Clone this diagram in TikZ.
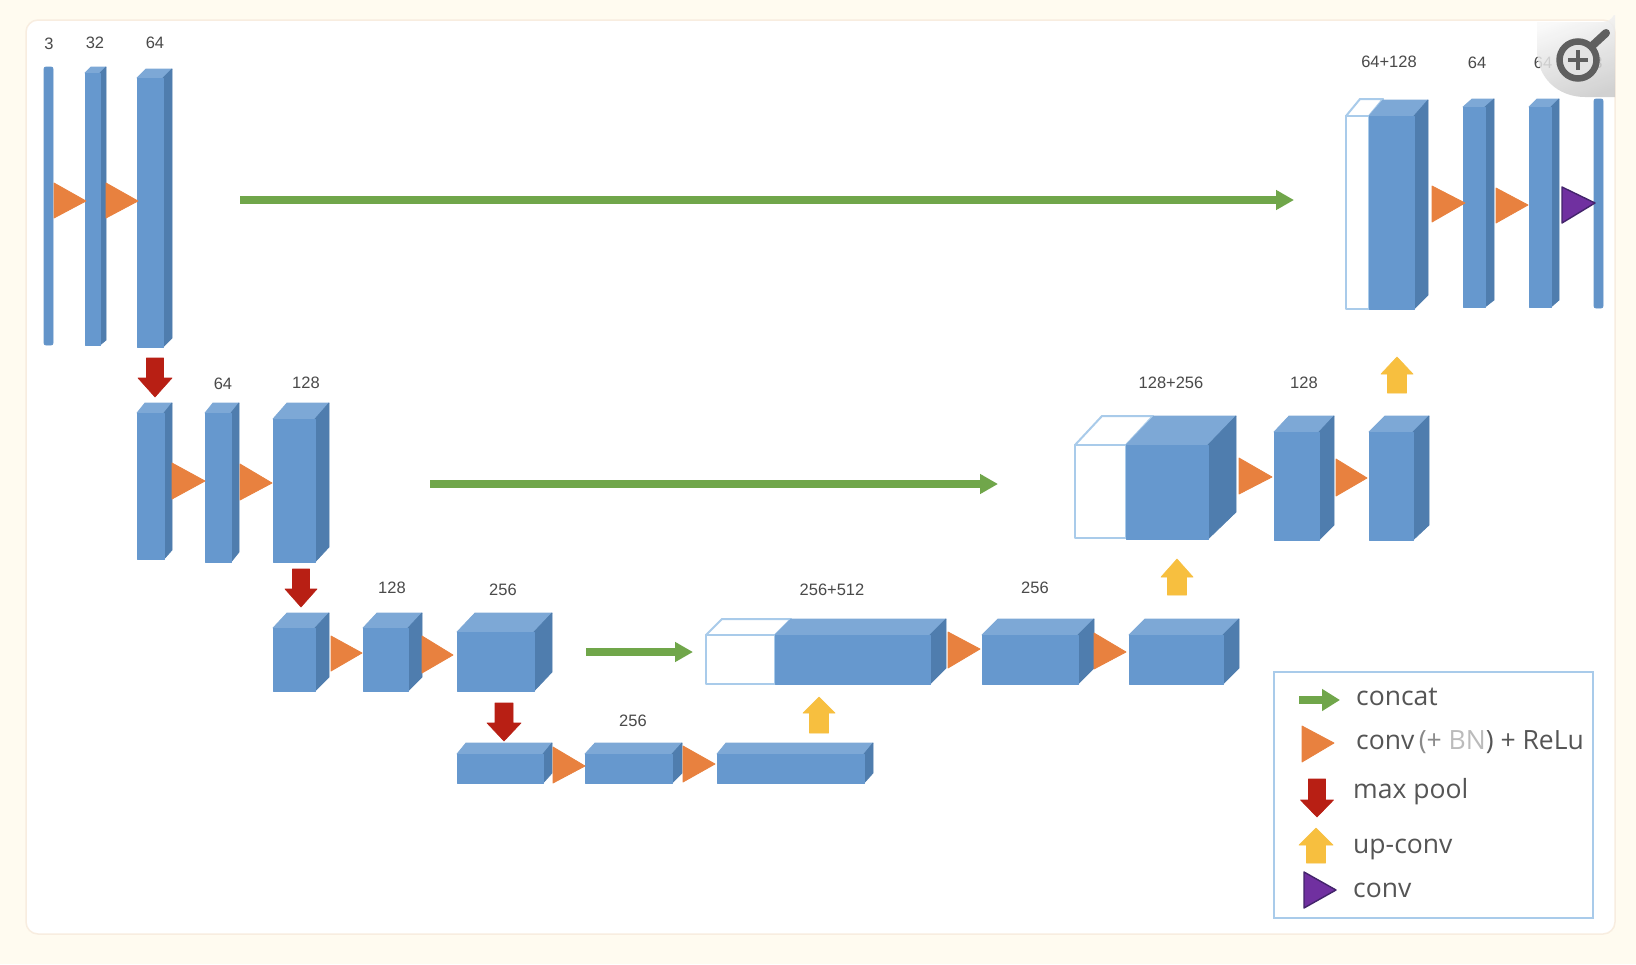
\documentclass[tikz,border=0pt]{standalone}
\usepackage{fontspec}
\setmainfont{Liberation Sans}
\newfontfamily\legendfont{Open Sans}
\usetikzlibrary{arrows.meta}
\definecolor{pagebg}{HTML}{FFFBF0}
\definecolor{paneledge}{HTML}{F8EDE0}
\definecolor{blockfront}{HTML}{6698CE}
\definecolor{blocktop}{HTML}{7DA8D6}
\definecolor{blockside}{HTML}{4F7DAE}
\definecolor{ghostedge}{HTML}{A9CBEA}
\definecolor{orangetri}{HTML}{E8813F}
\definecolor{purpletri}{HTML}{7030A0}
\definecolor{purpleedge}{HTML}{43246B}
\definecolor{poolred}{HTML}{B81F14}
\definecolor{upyellow}{HTML}{F7BF3F}
\definecolor{skipgreen}{HTML}{70A64A}
\definecolor{dimtext}{HTML}{4A4A4A}
\definecolor{legendtext}{HTML}{555555}
\definecolor{iconring}{HTML}{5F5F5F}
\tikzset{
  frontface/.style={fill=blockfront,draw=blockfront,line width=.8pt,line join=round},
  topface/.style={fill=blocktop,draw=blocktop,line width=.8pt,line join=round},
  sideface/.style={fill=blockside,draw=blockside,line width=.8pt,line join=round},
  ghostface/.style={fill=white,draw=ghostedge,line width=2pt,line join=round},
  thinbar/.style={fill=blockfront!85!blockside,draw=blockfront!85!blockside,line width=.8pt,rounded corners=2pt},
  convtri/.style={fill=orangetri,draw=orangetri,line width=.8pt,line join=round},
  finaltri/.style={fill=purpletri,draw=purpleedge,line width=1.4pt,line join=round},
  pool/.style={fill=poolred,draw=poolred,line width=.6pt,line join=round},
  upconv/.style={fill=upyellow,draw=upyellow,line width=.6pt,line join=round},
  skip/.style={draw=skipgreen,line width=7.5pt,-{Triangle[length=18pt,width=19pt]}},
  dim/.style={font=\fontsize{16.5}{18}\selectfont,text=dimtext,inner sep=0pt},
  legendlabel/.style={font=\legendfont\fontsize{26.5}{30}\selectfont,text=legendtext,inner sep=0pt,anchor=base west},
}
% name, left, front right, back right, top, front top, bottom, back bottom
\newcommand{\cuboid}[8]{%
  \coordinate (#1) at (#2,#6);
  \fill[topface] (#2,#6) -- (#2+#4-#3,#5) -- (#4,#5) -- (#3,#6) -- cycle;
  \fill[sideface] (#3,#6) -- (#4,#5) -- (#4,#8) -- (#3,#7) -- cycle;
  \fill[frontface] (#2,#6) rectangle (#3,#7);
}
% empty part of a concatenated block: left, join, back left, top, front top, bottom
\newcommand{\ghost}[6]{%
  \draw[ghostface] (#1,#5) -- (#3,#4) -- (#2+#3-#1,#4) -- (#2,#5) -- cycle;
  \draw[ghostface] (#1,#5) rectangle (#2,#6);
}
% left, top, bottom, tip x, tip y, style
\newcommand{\triangular}[6]{%
  \path[#6] (#1,#2) -- (#4,#5) -- (#1,#3) -- cycle;
}
% centre, half shaft, half head, start y, head y, tip y, style
\newcommand{\blockarrow}[7]{%
  \path[#7] (#1-#2,#4) -- (#1+#2,#4) -- (#1+#2,#5) -- (#1+#3,#5) -- (#1,#6)
    -- (#1-#3,#5) -- (#1-#2,#5) -- cycle;
}
\begin{document}
\begin{tikzpicture}[x=1pt,y=-1pt]
\useasboundingbox (0,0) rectangle (1636,964);
\fill[pagebg] (0,0) rectangle (1636,964);
\draw[paneledge,line width=1.5pt,fill=white,rounded corners=12pt] (26,20) rectangle (1615,934);

% first level, encoder
\path[thinbar] (44,67) rectangle (53,345);
\cuboid{a2}{85}{100}{106}{67}{73}{345}{340}
\cuboid{a3}{137}{163}{172}{69}{78}{347}{338}
\triangular{54}{183}{218}{86}{201}{convtri}
\triangular{106}{183}{218}{138}{201}{convtri}
\node[dim] (la1) at (49,44) {3};
\node[dim] (la2) at (95,43) {32};
\node[dim] (la3) at (155,43) {64};

% second level, encoder
\blockarrow{155}{8.5}{17}{358}{378}{397}{pool}
\cuboid{b1}{137}{164}{172}{403}{413}{559}{550}
\cuboid{b2}{205}{231}{239}{403}{413}{562}{552}
\cuboid{b3}{273}{315}{329}{403}{419}{562}{547}
\triangular{172}{463}{499}{205}{481}{convtri}
\triangular{240}{464}{500}{272}{483}{convtri}
\node[dim] (lb2) at (223,384) {64};
\node[dim] (lb3) at (306,383) {128};

% third level, encoder
\blockarrow{301}{8.5}{16}{569}{589}{607}{pool}
\cuboid{c1}{273}{315}{329}{613}{628}{691}{677}
\cuboid{c2}{363}{408}{422}{613}{628}{691}{677}
\cuboid{c3}{457}{534}{552}{613}{632}{691}{672}
\triangular{331}{636}{671}{362}{653}{convtri}
\triangular{422}{636}{673}{453}{655}{convtri}
\node[dim] (lc2) at (392,588) {128};
\node[dim] (lc3) at (503,590) {256};

% bottleneck
\blockarrow{504}{9}{17}{703}{723}{741}{pool}
\cuboid{d1}{457}{543}{552}{743}{754}{783}{773}
\cuboid{d2}{585}{672}{682}{743}{754}{783}{773}
\cuboid{d3}{717}{864}{873}{743}{754}{783}{773}
\triangular{553}{747}{783}{585}{766}{convtri}
\triangular{683}{746}{782}{715}{764}{convtri}
\node[dim] (ld2) at (633,721) {256};

% third level, decoder
\blockarrow{819}{9.5}{16}{733}{713}{697}{upconv}
\ghost{706}{775}{722}{619}{635}{684}
\cuboid{e1}{775}{930}{946}{619}{635}{684}{668}
\cuboid{e2}{982}{1078}{1094}{619}{635}{684}{668}
\cuboid{e3}{1129}{1223}{1239}{619}{635}{684}{668}
\triangular{948}{632}{668}{980}{649}{convtri}
\triangular{1094}{633}{669}{1126}{652}{convtri}
\node[dim] (le1) at (832,590) {256+512};
\node[dim] (le2) at (1035,588) {256};

% second level, decoder
\blockarrow{1177}{9.5}{16}{595}{577}{559}{upconv}
\ghost{1075}{1126}{1102}{416}{445}{538}
\cuboid{f1}{1126}{1208}{1236}{416}{445}{539}{512}
\cuboid{f2}{1274}{1319}{1334}{416}{432}{540}{525}
\cuboid{f3}{1369}{1413}{1429}{416}{432}{540}{525}
\triangular{1239}{458}{494}{1272}{477}{convtri}
\triangular{1336}{459}{496}{1367}{478}{convtri}
\node[dim] (lf1) at (1171,383) {128+256};
\node[dim] (lf2) at (1304,383) {128};

% first level, decoder
\blockarrow{1397}{9.5}{16}{393}{374}{357}{upconv}
\ghost{1346}{1369}{1360}{99}{116}{309}
\cuboid{g1}{1369}{1414}{1428}{100}{116}{309}{295}
\cuboid{g2}{1463}{1485}{1494}{99}{107}{307}{300}
\cuboid{g3}{1529}{1551}{1559}{99}{107}{307}{300}
\path[thinbar] (1594,99) rectangle (1603,308);
\triangular{1432}{186}{222}{1465}{203}{convtri}
\triangular{1496}{188}{223}{1528}{205}{convtri}
\triangular{1562}{187}{223}{1595}{203}{finaltri}
\node[dim] (lg1) at (1389,62) {64+128};
\node[dim] (lg2) at (1477,63) {64};
\node[dim] (lg3) at (1543,63) {64};
\node[dim] (lg4) at (1598,63) {3};

% skip connections
\coordinate (s1a) at (240,200);
\coordinate (s1b) at (1294,200);
\coordinate (s2a) at (430,484);
\coordinate (s2b) at (998,484);
\coordinate (s3a) at (586,652);
\coordinate (s3b) at (693,652);
\draw[skip] (s1a) -- (s1b);
\draw[skip] (s2a) -- (s2b);
\draw[skip] (s3a) -- (s3b);

% legend
\draw[ghostedge,line width=2.5pt,fill=white] (1274,672) rectangle (1593,918);
\coordinate (k1a) at (1299,700);
\coordinate (k1b) at (1340,700);
\draw[skip,line width=8pt,-{Triangle[length=18pt,width=21pt]}] (k1a) -- (k1b);
\node[legendlabel] (k1) at (1356,705) {concat};
\triangular{1302}{726}{762}{1334}{743}{convtri}
\node[legendlabel] (k2) at (1356,749) {conv\,\textcolor{legendtext!70}{(+} \textcolor{legendtext!40}{BN}{)} + ReLu};
\blockarrow{1317}{8.5}{16.5}{779}{800}{817}{pool}
\node[legendlabel] (k3) at (1353,798) {max pool};
\blockarrow{1316}{9.5}{17}{863}{845}{828}{upconv}
\node[legendlabel] (k4) at (1353,853) {up-conv};
\triangular{1304}{872}{908}{1336}{890}{finaltri}
\node[legendlabel] (k5) at (1353,897) {conv};

% zoom control in the panel corner
\begin{scope}
  \clip (1537,22) -- (1603,22) arc[start angle=90,end angle=0,radius=12] -- (1615,97) -- (1585,97)
    .. controls (1558,97) and (1537,78) .. (1537,50) -- cycle;
  \shade[left color=gray!4,right color=gray!42,shading angle=20,opacity=.85] (1530,15) rectangle (1620,100);
\end{scope}
\draw[iconring,line width=8pt,line cap=round] (1593,45) -- (1606,33);
\draw[iconring,line width=6.5pt,fill=gray!22] (1578,60) circle[radius=18.5];
\draw[iconring,line width=4pt] (1568,60) -- (1588,60) (1578,50) -- (1578,70);
\end{tikzpicture}
\end{document}
